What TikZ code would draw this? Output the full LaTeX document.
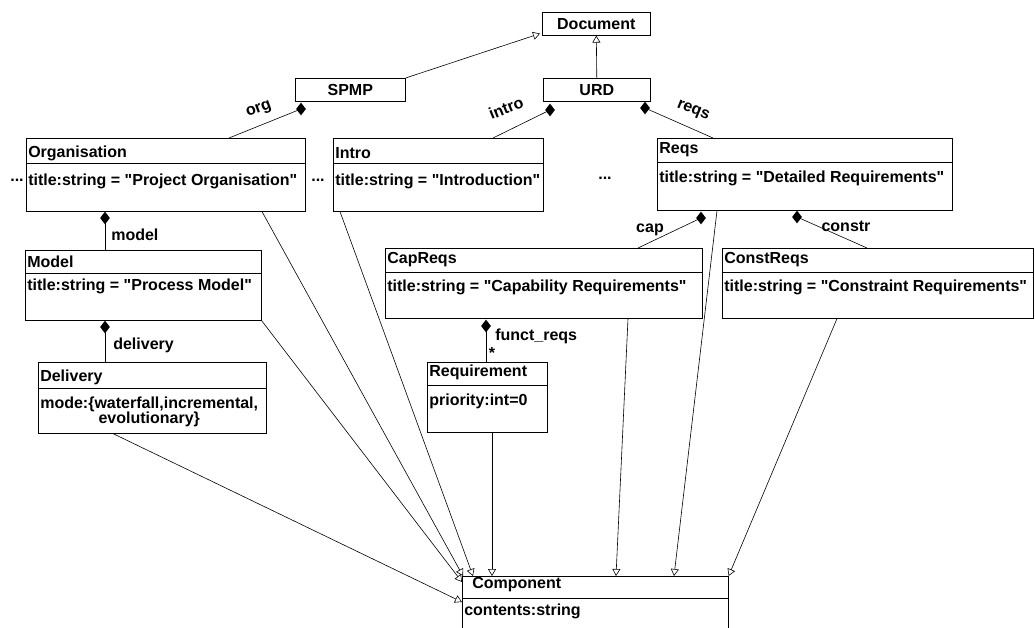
\documentclass[tikz,border=0pt]{standalone}
\usepackage{fontspec}
\setmainfont{Liberation Sans}[Ligatures=TeXOff]
\usetikzlibrary{arrows.meta,shapes.geometric}

\newcommand{\umlfont}{\bfseries\fontsize{16}{15}\selectfont}

\tikzset{
  klass/.style={draw, anchor=north west, inner sep=0pt, font=\umlfont},
  kname/.style={anchor=west, inner sep=2pt, font=\umlfont},
  lbl/.style={inner sep=0pt, font=\umlfont},
  whole/.style={diamond, fill=black, inner sep=0pt, minimum width=10, minimum height=13},
  gen/.style={-{Triangle[open,length=7pt,width=8pt]}},
}

\begin{document}
\begin{tikzpicture}[x=1pt,y=-1pt,line width=0.6pt]
  \useasboundingbox (0,0) rectangle (1035,628);

  % top of the hierarchy
  \node[klass, minimum width=108, minimum height=23] (doc) at (542,12) {Document};
  \node[klass, minimum width=110, minimum height=23] (spmp) at (295,78) {SPMP};
  \node[klass, minimum width=107, minimum height=23] (urd) at (543,78) {URD};
  \draw[gen] (spmp.north east) -- ([xshift=-2pt,yshift=2pt]doc.south west);
  \draw[gen] (urd.north) -- (doc.south);

  % Organisation
  \node[klass, minimum width=279, minimum height=73] (org) at (26,138) {};
  \node[kname] (orgName) at ([yshift=-15pt]org.north west) {Organisation};
  \draw ([yshift=-25pt]org.north west) -- ([yshift=-25pt]org.north east);
  \node[kname] (orgAttr) at ([yshift=-43pt]org.north west) {title:string = "Project Organisation"};

  % Intro
  \node[klass, minimum width=210, minimum height=73] (intro) at (333,138) {};
  \node[kname] (introName) at ([yshift=-15pt]intro.north west) {Intro};
  \draw ([yshift=-25pt]intro.north west) -- ([yshift=-25pt]intro.north east);
  \node[kname] (introAttr) at ([yshift=-43pt]intro.north west) {title:string = "Introduction"};

  % Reqs
  \node[klass, minimum width=295, minimum height=72] (reqs) at (657,138) {};
  \node[kname] (reqsName) at ([yshift=-12pt]reqs.north west) {Reqs};
  \draw ([yshift=-24pt]reqs.north west) -- ([yshift=-24pt]reqs.north east);
  \node[kname] (reqsAttr) at ([yshift=-40pt]reqs.north west) {title:string = "Detailed Requirements"};

  % dots
  \node[lbl] (dotsA) at (17,180) {...};
  \node[lbl] (dotsB) at (318,180) {...};
  \node[lbl] (dotsC) at (605,178) {...};

  % Model
  \node[klass, minimum width=236, minimum height=70] (model) at (25,250) {};
  \node[kname] (modelName) at ([yshift=-12pt]model.north west) {Model};
  \draw ([yshift=-23pt]model.north west) -- ([yshift=-23pt]model.north east);
  \node[kname] (modelAttr) at ([yshift=-36pt]model.north west) {title:string = "Process Model"};

  % Delivery
  \node[klass, minimum width=228, minimum height=71] (deliv) at (38,362) {};
  \node[kname] (delivName) at ([yshift=-15pt]deliv.north west) {Delivery};
  \draw ([yshift=-26pt]deliv.north west) -- ([yshift=-26pt]deliv.north east);
  \node[kname, align=center] (delivAttr) at ([yshift=-50pt]deliv.north west) {mode:\{waterfall,incremental,\\evolutionary\}};

  % CapReqs
  \node[klass, minimum width=317, minimum height=70] (capreqs) at (385,248) {};
  \node[kname] (capName) at ([yshift=-12pt]capreqs.north west) {CapReqs};
  \draw ([yshift=-24pt]capreqs.north west) -- ([yshift=-24pt]capreqs.north east);
  \node[kname] (capAttr) at ([yshift=-39pt]capreqs.north west) {title:string = "Capability Requirements"};

  % ConstReqs
  \node[klass, minimum width=311, minimum height=70] (constreqs) at (722,248) {};
  \node[kname] (constName) at ([yshift=-12pt]constreqs.north west) {ConstReqs};
  \draw ([yshift=-24pt]constreqs.north west) -- ([yshift=-24pt]constreqs.north east);
  \node[kname] (constAttr) at ([yshift=-39pt]constreqs.north west) {title:string = "Constraint Requirements"};

  % Requirement
  \node[klass, minimum width=120, minimum height=70] (req) at (427,362) {};
  \node[kname] (reqName) at ([yshift=-10pt]req.north west) {Requirement};
  \draw ([yshift=-23pt]req.north west) -- ([yshift=-23pt]req.north east);
  \node[kname] (reqAttr) at ([yshift=-39pt]req.north west) {priority:int=0};

  % Component
  \node[klass, minimum width=266, minimum height=70] (comp) at (462,576) {};
  \node[kname] (compName) at ([xshift=8pt,yshift=-9pt]comp.north west) {Component};
  \draw ([yshift=-22pt]comp.north west) -- ([yshift=-22pt]comp.north east);
  \node[kname] (compAttr) at ([yshift=-35pt]comp.north west) {contents:string};

  % compositions
  \node[whole] (dOrg) at (301,109) {};
  \node[whole] (dIntro) at (550,110) {};
  \node[whole] (dReqs) at (645,108) {};
  \node[whole] (dModel) at (105,218) {};
  \node[whole] (dDeliv) at (105,327) {};
  \node[whole] (dCap) at (701,218) {};
  \node[whole] (dConstr) at (797,217) {};
  \node[whole] (dFunct) at (486,326) {};
  \draw (dOrg.center) -- ([xshift=203pt]org.north west);
  \draw (dIntro.center) -- ([xshift=160pt]intro.north west);
  \draw (dReqs.center) -- ([xshift=56pt]reqs.north west);
  \draw (dModel.center) -- (dModel |- model.north);
  \draw (dDeliv.center) -- (dDeliv |- deliv.north);
  \draw (dCap.center) -- ([xshift=253pt]capreqs.north west);
  \draw (dConstr.center) -- ([xshift=145pt]constreqs.north west);
  \draw (dFunct.center) -- (dFunct |- req.north);
  \node[lbl, rotate=20] (lOrg) at (259,110) {org};
  \node[lbl, rotate=22] (lIntro) at (506,108) {intro};
  \node[lbl, rotate=-22] (lReqs) at (693,111) {reqs};
  \node[lbl] (lCap) at (650,230) {cap};
  \node[lbl] (lConstr) at (846,226) {constr};
  \node[lbl, anchor=west] (lModel) at (111,235) {model};
  \node[lbl, anchor=west] (lDeliv) at (113,345) {delivery};
  \node[lbl, anchor=west] (lFunct) at (495,336) {funct\_reqs};
  \node[lbl] (lMany) at (492,353) {*};

  % everything is a Component
  \draw[gen] ([xshift=236pt]org.south west) -- ([xshift=1pt]comp.north west);
  \draw[gen] ([xshift=7pt]intro.south west) -- ([xshift=11pt]comp.north west);
  \draw[gen] (model.south east) -- ([yshift=-6pt]comp.north west);
  \draw[gen] ([xshift=75pt]deliv.south west) -- ([yshift=-26pt]comp.north west);
  \draw[gen] ([xshift=65pt]req.south west) -- ([xshift=30pt]comp.north west);
  \draw[gen] ([xshift=243pt]capreqs.south west) -- ([xshift=154pt]comp.north west);
  \draw[gen] ([xshift=60pt]reqs.south west) -- ([xshift=212pt]comp.north west);
  \draw[gen] ([xshift=115pt]constreqs.south west) -- (comp.north east);
\end{tikzpicture}
\end{document}
